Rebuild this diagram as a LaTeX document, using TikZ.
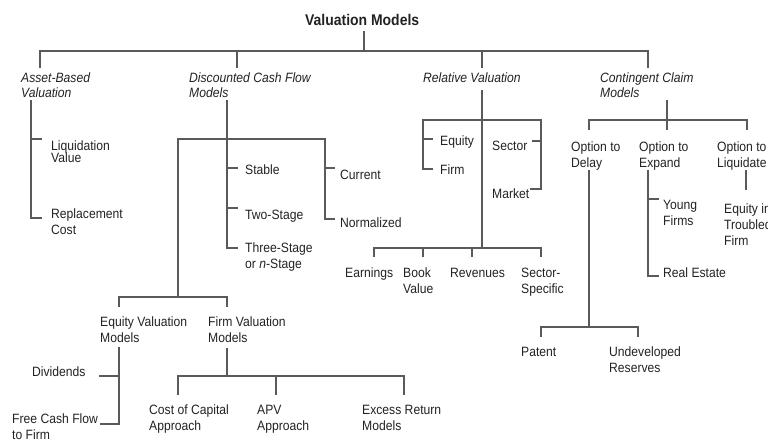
\documentclass[tikz,border=0pt]{standalone}
\usepackage{fontspec}
\setmainfont{Liberation Sans}[FakeStretch=0.9]
\definecolor{ln}{HTML}{5A5A5A}
\definecolor{txt}{HTML}{222222}
\begin{document}
\begin{tikzpicture}[x=1pt,y=-1pt,
  lbl/.style={anchor=base west, inner sep=0pt, align=left, text=txt, font=\fontsize{13.5}{16}\selectfont},
  ital/.style={lbl, font=\fontsize{13.5}{15}\selectfont\itshape},
  conn/.style={draw=ln, line width=1.4pt}]
\clip (0,0) rectangle (768,439);
\useasboundingbox (0,0) rectangle (768,439);

% texts (anchor at the baseline of the last line)
\node[lbl, font=\fontsize{15.5}{18}\selectfont\bfseries] (title) at (305,25) {Valuation Models};
\node[ital] (asset) at (21,97) {Asset-Based\\Valuation};
\node[ital] (dcf) at (189,97) {Discounted Cash Flow\\Models};
\node[ital] (rel) at (423,82) {Relative Valuation};
\node[ital] (cont) at (600,97) {Contingent Claim\\Models};

\node[lbl] (liq) at (51,162.5) {Liquidation\\[-3.5pt]Value};
\node[lbl] (repl) at (51,234) {Replacement\\Cost};

\node[lbl] (stable) at (245,174) {Stable};
\node[lbl] (two) at (245,219) {Two-Stage};
\node[lbl] (three) at (245,268) {Three-Stage\\or \textit{n}-Stage};
\node[lbl] (curr) at (340,179) {Current};
\node[lbl] (norm) at (340,227) {Normalized};

\node[lbl] (eqv) at (100,342) {Equity Valuation\\Models};
\node[lbl] (fiv) at (208,342) {Firm Valuation\\Models};
\node[lbl] (div) at (32,376) {Dividends};
\node[lbl] (fcf) at (12,439) {Free Cash Flow\\to Firm};
\node[lbl] (coc) at (149,430) {Cost of Capital\\Approach};
\node[lbl] (apv) at (257,430) {APV\\Approach};
\node[lbl] (exr) at (362,430) {Excess Return\\Models};

\node[lbl] (req) at (440,145) {Equity};
\node[lbl] (rfi) at (440,174) {Firm};
\node[lbl] (rsec) at (492,150) {Sector};
\node[lbl] (rmkt) at (492,198) {Market};
\node[lbl] (earn) at (345,277) {Earnings};
\node[lbl] (book) at (403,293) {Book\\Value};
\node[lbl] (rev) at (450,277) {Revenues};
\node[lbl] (secs) at (521,293) {Sector-\\Specific};

\node[lbl] (odel) at (571,167) {Option to\\Delay};
\node[lbl] (oexp) at (639,167) {Option to\\Expand};
\node[lbl] (oliq) at (717,167) {Option to\\Liquidate};
\node[lbl] (young) at (663,225) {Young\\Firms};
\node[lbl] (reale) at (663,277) {Real Estate};
\node[lbl] (eqtf) at (724,245) {Equity in\\Troubled\\Firm};
\node[lbl] (pat) at (521,356) {Patent};
\node[lbl] (undev) at (609,372) {Undeveloped\\Reserves};

% connectors: top level
\draw[conn] (364,31) -- (364,51);
\draw[conn] (40,68) -- (40,51) -- (648,51) -- (648,68);
\draw[conn] (237,51) -- (237,68);
\draw[conn] (482,51) -- (482,68);

% asset based
\draw[conn] (31,100) -- (31,218) -- (42,218);
\draw[conn] (31,139) -- (42,139);

% DCF
\draw[conn] (227,100) -- (227,248) -- (238,248);
\draw[conn] (227,168) -- (238,168);
\draw[conn] (227,208) -- (238,208);
\draw[conn] (178,297) -- (178,139) -- (325,139) -- (325,219) -- (335,219);
\draw[conn] (325,168) -- (335,168);
\draw[conn] (119,307) -- (119,297) -- (227,297) -- (227,307);
\draw[conn] (119,347) -- (119,424) -- (100,424);
\draw[conn] (119,376) -- (99,376);
\draw[conn] (227,348) -- (227,376);
\draw[conn] (178,395) -- (178,376) -- (404,376) -- (404,395);
\draw[conn] (276,376) -- (276,395);

% relative
\draw[conn] (482,90) -- (482,248);
\draw[conn] (433,169) -- (423,169) -- (423,120) -- (541,120) -- (541,189) -- (530,189);
\draw[conn] (423,139) -- (433,139);
\draw[conn] (541,141) -- (532,141);
\draw[conn] (374,257) -- (374,248) -- (541,248) -- (541,257);
\draw[conn] (423,248) -- (423,257);
\draw[conn] (472,248) -- (472,257);

% contingent
\draw[conn] (667,100) -- (667,130);
\draw[conn] (589,130) -- (589,120) -- (747,120) -- (747,130);
\draw[conn] (589,170) -- (589,327);
\draw[conn] (541,337) -- (541,327) -- (638,327) -- (638,337);
\draw[conn] (648,170) -- (648,276) -- (659,276);
\draw[conn] (648,199) -- (659,199);
\draw[conn] (746,170) -- (746,190);
\end{tikzpicture}
\end{document}
